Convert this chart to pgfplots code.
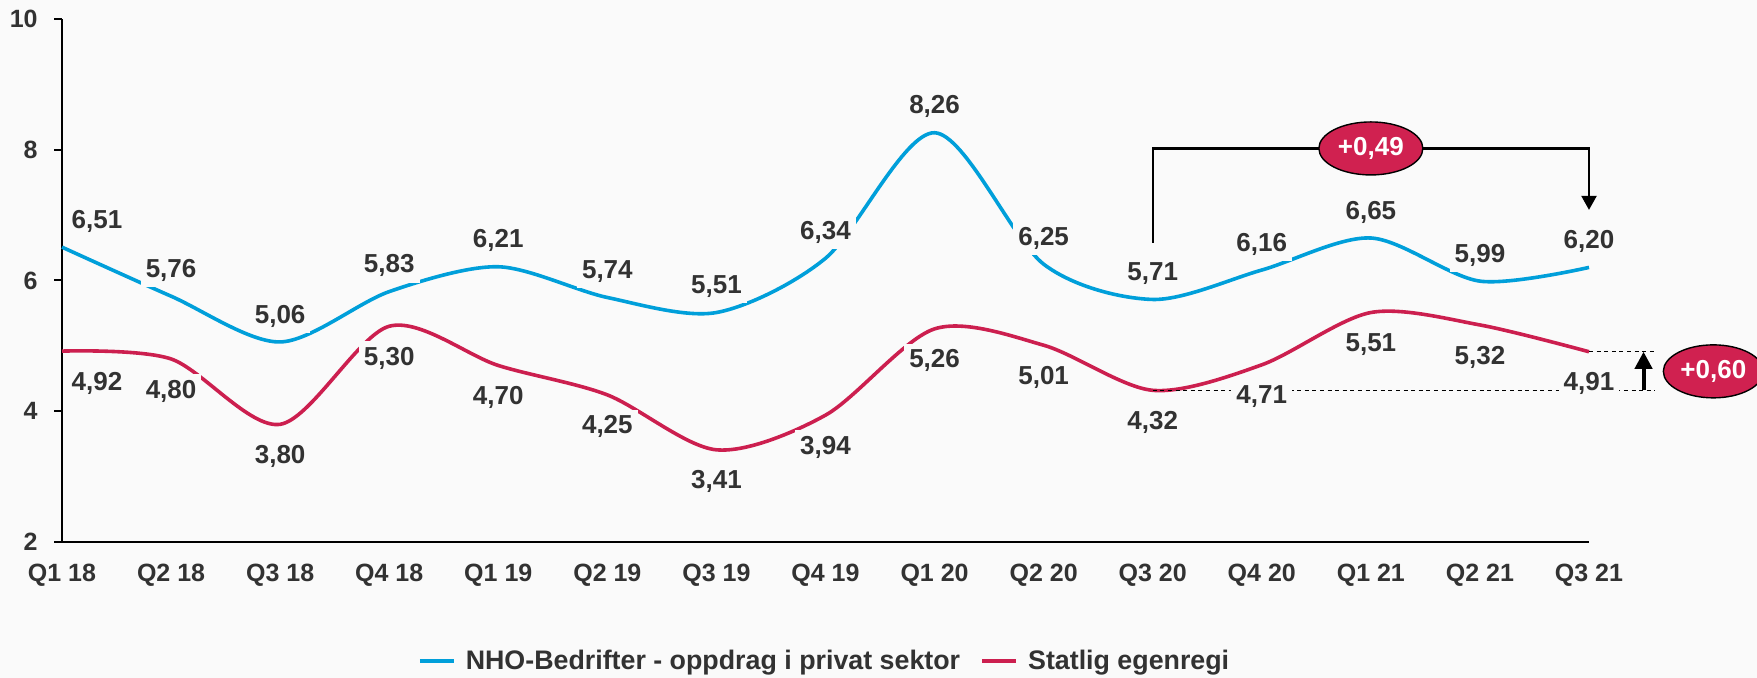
\documentclass[border=0pt]{standalone}
\usepackage{fontspec}
\setmainfont{Liberation Sans}
\usepackage{pgfplots}
\usepackage{pgfplotstable}
\pgfplotsset{compat=1.18}
\usetikzlibrary{arrows.meta,shapes.geometric}
\definecolor{bgcol}{RGB}{250,250,250}
\definecolor{nhoblue}{RGB}{0,159,218}
\definecolor{statred}{RGB}{204,31,79}
\definecolor{ellred}{RGB}{208,33,80}
\definecolor{txt}{RGB}{50,50,50}
\newcommand{\lblfont}{\fontsize{13}{15}\selectfont\bfseries}
\newcommand{\tickfont}{\fontsize{12.5}{15}\selectfont\bfseries}
\pgfplotstableread{
x nho nhol stat statl
0 6.51 6,51 4.92 4,92
1 5.76 5,76 4.80 4,80
2 5.06 5,06 3.80 3,80
3 5.83 5,83 5.30 5,30
4 6.21 6,21 4.70 4,70
5 5.74 5,74 4.25 4,25
6 5.51 5,51 3.41 3,41
7 6.34 6,34 3.94 3,94
8 8.26 8,26 5.26 5,26
9 6.25 6,25 5.01 5,01
10 5.71 5,71 4.32 4,32
11 6.16 6,16 4.71 4,71
12 6.65 6,65 5.51 5,51
13 5.99 5,99 5.32 5,32
14 6.20 6,20 4.91 4,91
}\data
\pgfplotsset{
  lbl/.style={draw=none, forget plot, nodes near coords, point meta=explicit symbolic,
    every node near coord/.append style={anchor=center, font=\lblfont, text=txt, fill=bgcol, inner xsep=2.5pt, inner ysep=3pt}},
}
\begin{document}
\begin{tikzpicture}
\fill[bgcol] (-31pt,-68pt) rectangle (847.5pt,271pt);
\begin{axis}[
  at={(0pt,0pt)}, anchor=south west,
  scale only axis, width=763.5pt, height=261.5pt,
  xmin=0, xmax=14, ymin=2, ymax=10,
  axis x line*=bottom, axis y line*=left,
  axis line style={black, line width=1pt},
  clip=false,
  xtick={0,...,14},
  xticklabels={Q1 18,Q2 18,Q3 18,Q4 18,Q1 19,Q2 19,Q3 19,Q4 19,Q1 20,Q2 20,Q3 20,Q4 20,Q1 21,Q2 21,Q3 21},
  ytick={2,4,6,8,10},
  tick align=outside, major tick length=4pt,
  xtick style={draw=none},
  ytick style={black, line width=1pt},
  /pgf/number format/assume math mode=true,
  tick label style={font=\tickfont, text=txt},
  xticklabel style={anchor=base, yshift=-16pt},
  yticklabel style={anchor=east, inner sep=0pt, xshift=-8pt},
  legend style={at={(0.5,-0.2275)}, anchor=center, draw=none, fill=none,
    font=\fontsize{13.4}{15}\selectfont\bfseries, text=txt,
    /tikz/every odd column/.append style={column sep=3pt},
    /tikz/every even column/.append style={column sep=8pt}},
  legend columns=2,
  legend image code/.code={\draw[#1, line width=2pt] (0pt,0pt) -- (17pt,0pt);},
]
\addplot[nhoblue, line width=1.8pt, smooth] table[x=x,y=nho]{\data};
\addlegendentry{NHO-Bedrifter - oppdrag i privat sektor}
\addplot[statred, line width=1.8pt, smooth] table[x=x,y=stat]{\data};
\addlegendentry{Statlig egenregi}

% annotations
\draw[black, line width=0.6pt, dash pattern=on 2pt off 1.8pt] (axis cs:10,4.32) -- (axis cs:14.6,4.32);
\draw[black, line width=0.6pt, dash pattern=on 2pt off 1.8pt] (axis cs:14,4.91) -- (axis cs:14.6,4.91);
\draw[black, line width=2pt, -{Triangle[width=8.5pt,length=8.5pt]}] (axis cs:14.5,4.32) -- (axis cs:14.5,4.91);
\draw[black, line width=1.1pt, -{Triangle[width=7.5pt,length=7pt]}] (axis cs:10,6.58) -- (axis cs:10,8.02) -- (axis cs:14,8.02) -- (axis cs:14,7.08);

% data labels
\addplot[lbl, skip coords between index={0}{1}, every node near coord/.append style={yshift=13pt}]
  table[x=x,y=nho,meta=nhol]{\data};
\addplot[lbl, skip coords between index={1}{20}, every node near coord/.append style={yshift=13pt, xshift=17.5pt}]
  table[x=x,y=nho,meta=nhol]{\data};
\addplot[lbl, skip coords between index={0}{1}, every node near coord/.append style={yshift=-16pt}]
  table[x=x,y=stat,meta=statl]{\data};
\addplot[lbl, skip coords between index={1}{20}, every node near coord/.append style={yshift=-16pt, xshift=17.5pt}]
  table[x=x,y=stat,meta=statl]{\data};

\node[ellipse, draw=black, line width=0.7pt, fill=ellred, minimum width=52pt, minimum height=26.5pt, inner sep=0pt, text=white, font=\lblfont] at (axis cs:12,8.02) {+0,49};
\node[ellipse, draw=black, line width=0.7pt, fill=ellred, minimum width=50pt, minimum height=26.5pt, inner sep=0pt, text=white, font=\lblfont] at (axis cs:15.14,4.61) {+0,60};
\end{axis}
\pgfresetboundingbox
\useasboundingbox (-31pt,-68pt) rectangle (847.5pt,271pt);
\end{tikzpicture}
\end{document}
